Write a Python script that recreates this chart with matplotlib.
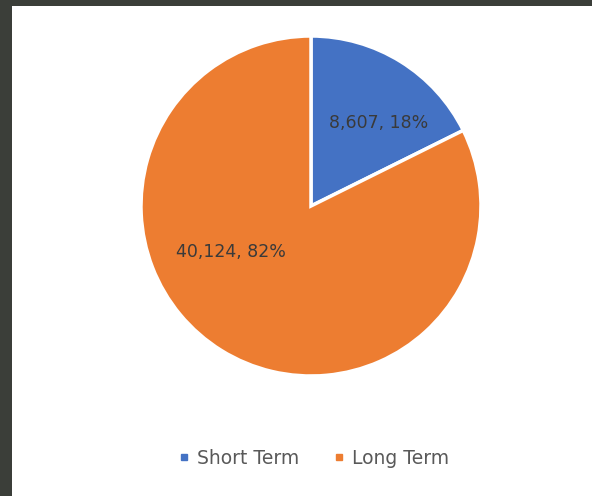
import matplotlib.pyplot as plt
from matplotlib.lines import Line2D

# term split of the portfolio
labels = ["Short Term", "Long Term"]
values = [8607, 40124]
colors = ["#4472C4", "#ED7D31"]

plt.rcParams['font.family'] = ['DejaVu Sans']

fig = plt.figure(figsize=(5.92, 4.96), dpi=100)
fig.patch.set_facecolor("#3b3e39")

# white chart panel
panel = fig.add_axes([12 / 592, 0, 580 / 592, 490 / 496])
panel.set_facecolor("white")
panel.set_xticks([])
panel.set_yticks([])
for s in panel.spines.values():
    s.set_visible(False)

ax = fig.add_axes([141 / 592, 120 / 496, 340 / 592, 340 / 496])
total = sum(values)


def fmt(v):
    return f"{v:,}, {100 * v / total:.0f}%"


ax.pie(values, colors=colors, startangle=90, counterclock=False,
       wedgeprops=dict(edgecolor="white", linewidth=2.5))
ax.set_xlim(-1, 1)
ax.set_ylim(-1, 1)
ax.set_aspect("equal")
ax.axis("off")

# data labels
ax.text(0.40, 0.49, fmt(values[0]), ha="center", va="center",
        fontsize=12.5, color="#3a3a3a")
ax.text(-0.47, -0.27, fmt(values[1]), ha="center", va="center",
        fontsize=12.5, color="#3a3a3a")

handles = [Line2D([], [], marker="s", linestyle="none", markersize=5,
                  markerfacecolor=c, markeredgecolor=c) for c in colors]
fig.legend(handles, labels, loc="center", bbox_to_anchor=(314 / 592, 38 / 496),
           ncol=2, frameon=False, fontsize=13.5, labelcolor="#595959",
           handlelength=0.6, handletextpad=0.4, columnspacing=1.8)

fig.savefig("out.png", dpi=100, facecolor=fig.get_facecolor())
